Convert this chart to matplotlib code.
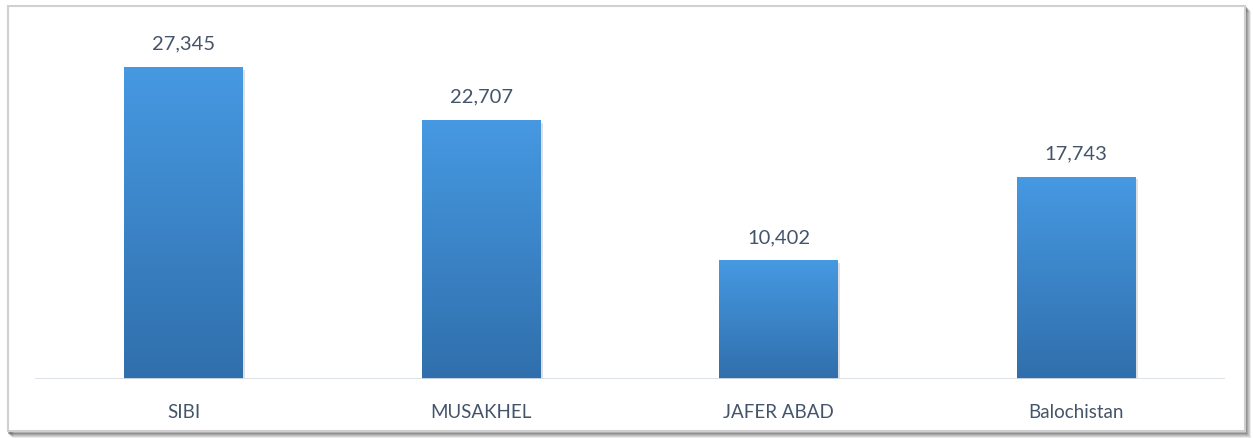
import numpy as np
import matplotlib.pyplot as plt
from matplotlib.patches import Rectangle
from matplotlib.colors import LinearSegmentedColormap

categories = ['SIBI', 'MUSAKHEL', 'JAFER ABAD', 'Balochistan']
values = [27345, 22707, 10402, 17743]

W, H = 1253, 439
fig = plt.figure(figsize=(W / 100, H / 100), dpi=100)
plt.rcParams['font.family'] = ['Lato', 'DejaVu Sans']

# outer frame with soft shadow on right/bottom
for i, a in enumerate([0.12, 0.18, 0.26, 0.36, 0.48]):
    off = 5 - i
    fig.patches.append(Rectangle(((8 + off) / W, (6 - off) / H), 1237 / W, 425 / H,
                                 transform=fig.transFigure, facecolor='none',
                                 edgecolor='#555555', alpha=a, lw=1.4, zorder=-3))
fig.patches.append(Rectangle((8 / W, 7 / H), 1237 / W, 425 / H, transform=fig.transFigure,
                             facecolor='white', edgecolor='#d0d0d0', lw=1.5, zorder=-2))

ax = fig.add_axes([35 / W, 59 / H, 1190 / W, 342.3 / H])
ax.set_facecolor('none')

x = np.arange(len(categories))
bars = ax.bar(x, values, width=0.40, color='#3c86cc', zorder=2)

grad = np.linspace(0, 1, 256).reshape(-1, 1)
cmap = LinearSegmentedColormap.from_list('g', ['#306fac', '#4699e2'])
for b in bars:
    x0, w, h = b.get_x(), b.get_width(), b.get_height()
    # subtle shadow
    ax.bar(x0 + w / 2 + 0.006, h, width=w, bottom=-250, color='#000000', alpha=0.12, zorder=1)
    im = ax.imshow(grad, extent=[x0, x0 + w, 0, h], origin='lower', aspect='auto',
                   cmap=cmap, zorder=3)
    im.set_clip_path(b)
    ax.text(x0 + w / 2, h + 1350, f'{h:,}', ha='center', va='bottom',
            fontsize=14.5, color='#44546a')

ax.set_xlim(-0.5, 3.5)
ax.set_ylim(0, 30000)
ax.axhline(0, color='#d9dee6', lw=2, zorder=4)
for s in ax.spines.values():
    s.set_visible(False)
ax.set_yticks([])
ax.set_xticks(x)
ax.set_xticklabels(categories, fontsize=13.5, color='#44546a')
ax.tick_params(axis='x', length=0, pad=17)

fig.savefig('out.png', dpi=100)
